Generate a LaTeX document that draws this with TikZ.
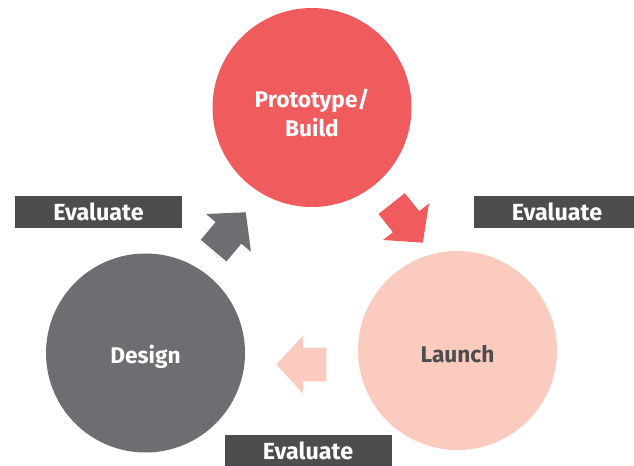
\documentclass[tikz,border=0pt]{standalone}
\usepackage{fontspec}
\setmainfont{Fira Sans}
\usetikzlibrary{shapes.arrows}
\definecolor{cyred}{HTML}{F05C5E}
\definecolor{cygray}{HTML}{6D6E71}
\definecolor{cypink}{HTML}{FACBBE}
\definecolor{cydark}{HTML}{4D4D4F}

\begin{document}
\begin{tikzpicture}[x=0.75pt, y=-0.75pt,
      phase/.style={circle, minimum size=149.25pt, inner sep=0pt, align=center, text=white,
                    text height=16pt, text depth=0pt, font=\fontsize{17}{21.75}\selectfont\bfseries},
      evalbox/.style={fill=cydark, text=white, minimum width=125.25pt, minimum height=24pt,
                      inner sep=0pt, font=\fontsize{17.5}{20}\selectfont\bfseries},
      fat/.style={single arrow, minimum height=37.5pt, minimum width=43.5pt, inner xsep=0pt,
                  inner ysep=12.4pt, single arrow head extend=9.4pt, single arrow tip angle=95,
                  anchor=tip}]
    \clip (0,0) rectangle (634,466);
    \node[phase, fill=cyred, text height=42.8pt] (build) at (312,107.5) {Prototype/\\Build};
    \node[phase, fill=cygray, text height=15pt] (design) at (145.5,353) {Design};
    \node[phase, fill=cypink, text=cydark, text height=18pt] (launch) at (457.5,350.5) {Launch};
    \node[fat, fill=cygray, rotate=50] (a1) at (246,212) {};
    \node[fat, fill=cyred, rotate=-51.5] (a2) at (423,243) {};
    \node[fat, fill=cypink, rotate=180] (a3) at (276,364.5) {};
    \node[evalbox] (e1) at (98.5,212) {Evaluate};
    \node[evalbox] (e2) at (557,212) {Evaluate};
    \node[evalbox] (e3) at (308,451) {Evaluate};
  \end{tikzpicture}
\end{document}
